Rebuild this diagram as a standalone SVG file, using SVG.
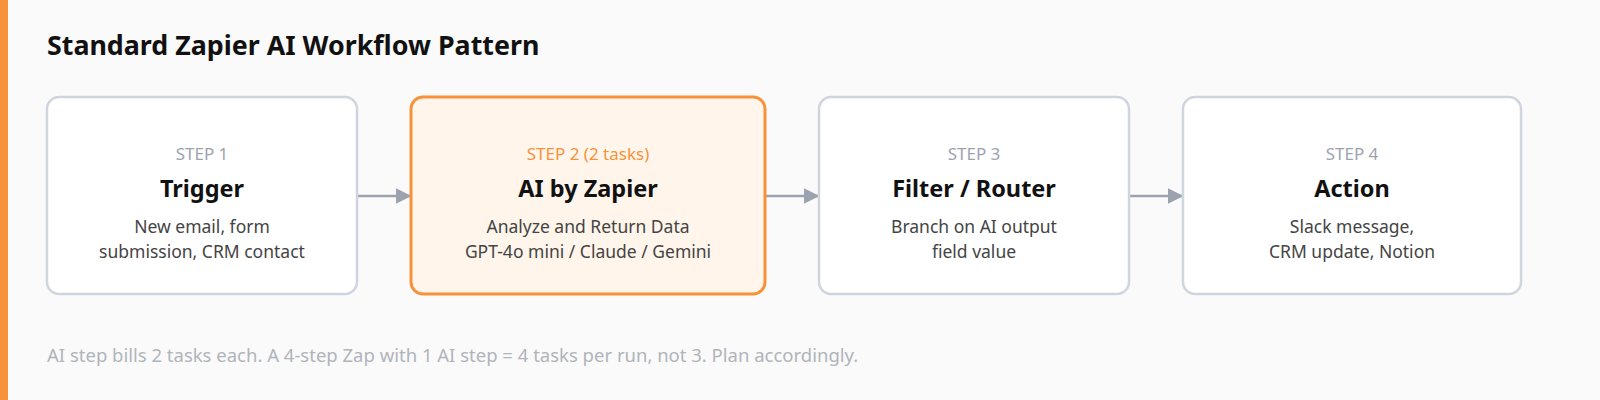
<svg xmlns="http://www.w3.org/2000/svg" width="1600" height="400" viewBox="0 0 1600 400">
<defs>
<style>
.box{fill:#fff;stroke:#cfd5df;stroke-width:2.5}
.hl{fill:#fff5eb;stroke:#f7923a;stroke-width:3}
.step{font:17px "Segoe UI","Noto Sans","Open Sans",sans-serif;fill:#9ca3af;text-anchor:middle}
.hs{fill:#f7923a}
.ttl{font:bold 23.5px "Segoe UI","Noto Sans","Open Sans",sans-serif;fill:#111;text-anchor:middle}
.d{font:17.5px "Segoe UI","Noto Sans","Open Sans",sans-serif;fill:#444;text-anchor:middle}
.c{stroke:#9ca3af;stroke-width:2.5;fill:none}
</style>
<marker id="a2" viewBox="0 0 10 10" refX="9" refY="5" markerWidth="16" markerHeight="16" markerUnits="userSpaceOnUse" orient="auto"><path d="M0,0L10,5L0,10z" fill="#9ca3af"/></marker>
</defs>
<rect width="1600" height="400" fill="#fafafa"/>
<rect width="8" height="400" fill="#f7923a"/>
<text x="47" y="55" style="font:bold 26.8px 'Segoe UI','Noto Sans','Open Sans',sans-serif;fill:#111">Standard Zapier AI Workflow Pattern</text>
<g id="connectors">
<path class="c" marker-end="url(#a2)" d="M358,196H410"/>
<path class="c" marker-end="url(#a2)" d="M766,196H818"/>
<path class="c" marker-end="url(#a2)" d="M1130,196H1182"/>
</g>
<g id="step1"><rect class="box" x="47" y="97" width="310" height="197" rx="12"/>
<text class="step" x="202" y="160">STEP 1</text><text class="ttl" x="202" y="197">Trigger</text>
<text class="d" x="202" y="233">New email, form</text><text class="d" x="202" y="258">submission, CRM contact</text></g>
<g id="step2"><rect class="hl" x="411" y="97" width="354" height="197" rx="12"/>
<text class="step hs" x="588" y="160">STEP 2 (2 tasks)</text><text class="ttl" x="588" y="197">AI by Zapier</text>
<text class="d" x="588" y="233">Analyze and Return Data</text><text class="d" x="588" y="258">GPT-4o mini / Claude / Gemini</text></g>
<g id="step3"><rect class="box" x="819" y="97" width="310" height="197" rx="12"/>
<text class="step" x="974" y="160">STEP 3</text><text class="ttl" x="974" y="197">Filter / Router</text>
<text class="d" x="974" y="233">Branch on AI output</text><text class="d" x="974" y="258">field value</text></g>
<g id="step4"><rect class="box" x="1183" y="97" width="338" height="197" rx="12"/>
<text class="step" x="1352" y="160">STEP 4</text><text class="ttl" x="1352" y="197">Action</text>
<text class="d" x="1352" y="233">Slack message,</text><text class="d" x="1352" y="258">CRM update, Notion</text></g>
<text x="47" y="362" style="font:18.5px 'Segoe UI','Noto Sans','Open Sans',sans-serif;fill:#b0b4bb">AI step bills 2 tasks each. A 4-step Zap with 1 AI step = 4 tasks per run, not 3. Plan accordingly.</text>
</svg>
